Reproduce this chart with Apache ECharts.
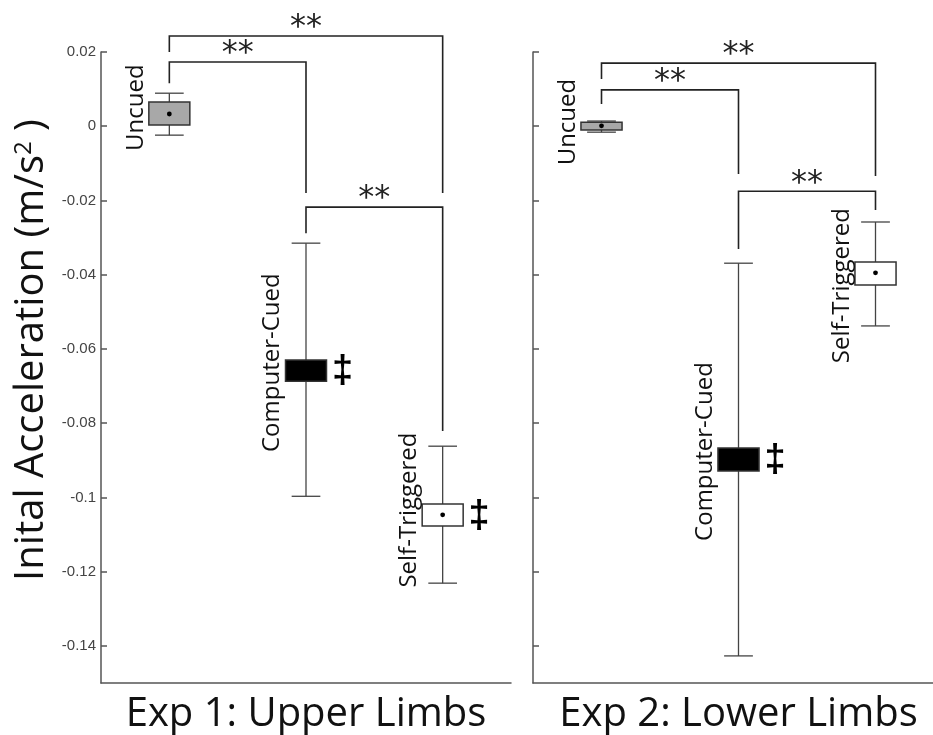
<!DOCTYPE html>
<html>
<head>
<meta charset="utf-8">
<script src="https://cdn.jsdelivr.net/npm/echarts@6/dist/echarts.min.js"></script>
<style>
  html, body { margin: 0; padding: 0; background: #fff; }
  #chart { width: 933px; height: 735px; }
</style>
</head>
<body>
<div id="chart"></div>
<script>
// Conditions shown in both panels
const categories = ['Uncued', 'Computer-Cued', 'Self-Triggered'];
const panelTitles = ['Exp 1: Upper Limbs', 'Exp 2: Lower Limbs'];
const yAxisTitle = 'Inital Acceleration (m/s';
const yTicks = [0.02, 0, -0.02, -0.04, -0.06, -0.08, -0.1, -0.12, -0.14];
const yMin = -0.15;
const yMax = 0.02;

// Exp 1 (upper limbs): whiskers, box edges and mean, in m/s^2
const exp1WhiskerLow  = [-0.0024, -0.0997, -0.1231];
const exp1BoxLow      = [ 0.0003, -0.0687, -0.1077];
const exp1Mean        = [ 0.0033, -0.0658, -0.1047];
const exp1BoxHigh     = [ 0.0065, -0.0630, -0.1018];
const exp1WhiskerHigh = [ 0.0089, -0.0315, -0.0862];
const exp1Dagger      = [0, 1, 1];

// Exp 2 (lower limbs)
const exp2WhiskerLow  = [-0.0016, -0.1427, -0.0538];
const exp2BoxLow      = [-0.0010, -0.0929, -0.0428];
const exp2Mean        = [ 0.0001, -0.0899, -0.0395];
const exp2BoxHigh     = [ 0.0011, -0.0867, -0.0366];
const exp2WhiskerHigh = [ 0.0014, -0.0369, -0.0258];
const exp2Dagger      = [0, 1, 0];

// Significance brackets: [from, to, bar level, from-end level, to-end level]
const exp1Brackets = [
  [0, 1,  0.0173,  0.0116, -0.0180],
  [0, 2,  0.0243,  0.0200, -0.0180],
  [1, 2, -0.0218, -0.0288, -0.0821]
];
const exp2Brackets = [
  [0, 1,  0.0098,  0.0060, -0.0129],
  [0, 2,  0.0170,  0.0127, -0.0134],
  [1, 2, -0.0175, -0.0331, -0.0226]
];
const sigMark = '**';
const daggerMark = '\u2021';

const boxFills = ['#a8a8a8', '#000000', '#ffffff'];
const inkColor = '#222';
const axisColor = '#555';
// vertical nudge (px) of each rotated condition label, per panel
const labelNudge = [[-6, -8, -5], [-4, -8, 12]];

function boxRows(wl, bl, mean, bh, wh, dag) {
  return categories.map((c, i) => [i, wl[i], bl[i], mean[i], bh[i], wh[i], dag[i]]);
}

function makeBoxRenderer(panel) {
  return function (params, api) {
    const idx = api.value(0);
    const band = api.size([1, 0])[0];
    const boxW = band * 0.30;
    const capW = band * 0.21;
    const pWl = api.coord([idx, api.value(1)]);
    const pBl = api.coord([idx, api.value(2)]);
    const pMean = api.coord([idx, api.value(3)]);
    const pBh = api.coord([idx, api.value(4)]);
    const pWh = api.coord([idx, api.value(5)]);
    const cx = pWl[0];
    const left = cx - boxW / 2;
    const right = cx + boxW / 2;
    const midY = (pBl[1] + pBh[1]) / 2;
    const lineStyle = { stroke: '#444', lineWidth: 1.3 };
    const children = [
      { type: 'line', shape: { x1: cx, y1: pWh[1], x2: cx, y2: pWl[1] }, style: lineStyle },
      { type: 'line', shape: { x1: cx - capW / 2, y1: pWh[1], x2: cx + capW / 2, y2: pWh[1] }, style: lineStyle },
      { type: 'line', shape: { x1: cx - capW / 2, y1: pWl[1], x2: cx + capW / 2, y2: pWl[1] }, style: lineStyle },
      { type: 'rect', shape: { x: left, y: pBh[1], width: boxW, height: pBl[1] - pBh[1] },
        style: { fill: boxFills[idx], stroke: '#333', lineWidth: 1.5 } },
      { type: 'circle', shape: { cx: cx, cy: pMean[1], r: 2.4 }, style: { fill: '#000' } },
      { type: 'text', x: left - 1, y: midY + labelNudge[panel][idx], rotation: Math.PI / 2,
        style: { text: categories[idx], fontFamily: 'Open Sans', fontSize: 24, fill: '#111',
                 align: 'center', verticalAlign: 'bottom' } }
    ];
    if (api.value(6)) {
      children.push({ type: 'text', x: right + 16, y: midY + 1,
        style: { text: daggerMark, fontFamily: 'Liberation Sans', fontWeight: 'bold', fontSize: 38,
                 fill: '#000', align: 'center', verticalAlign: 'middle' } });
    }
    return { type: 'group', children: children };
  };
}

function renderBracket(params, api) {
  const a = api.value(0), b = api.value(1);
  const p1 = api.coord([a, api.value(3)]);
  const p2 = api.coord([a, api.value(2)]);
  const p3 = api.coord([b, api.value(2)]);
  const p4 = api.coord([b, api.value(4)]);
  return {
    type: 'group',
    children: [
      { type: 'polyline', shape: { points: [p1, p2, p3, p4] },
        style: { stroke: inkColor, lineWidth: 1.6, fill: null } },
      { type: 'text', x: (p2[0] + p3[0]) / 2, y: p2[1] + 8,
        style: { text: sigMark, fontFamily: 'DejaVu Sans', fontSize: 32, fill: inkColor,
                 align: 'center', verticalAlign: 'bottom' } }
    ]
  };
}

const axisLine = { show: true, onZero: false, lineStyle: { color: axisColor, width: 1.5 } };

const option = {
  animation: false,
  backgroundColor: '#ffffff',
  grid: [
    { left: 101, top: 52, width: 410, height: 631, outerBoundsMode: 'none', containLabel: false },
    { left: 533, top: 52, width: 411, height: 631, outerBoundsMode: 'none', containLabel: false }
  ],
  xAxis: [0, 1].map(i => ({
    type: 'category', gridIndex: i, data: categories, boundaryGap: true,
    axisLine: axisLine, axisTick: { show: false }, axisLabel: { show: false },
    name: panelTitles[i], nameLocation: 'middle', nameGap: 12,
    nameTextStyle: { fontFamily: 'Open Sans', fontSize: 40, color: '#111' }
  })),
  yAxis: [0, 1].map(i => ({
    type: 'value', gridIndex: i, min: yMin, max: yMax,
    splitLine: { show: false },
    axisLine: axisLine,
    axisTick: { show: true, inside: true, length: 6, customValues: yTicks,
                lineStyle: { color: axisColor, width: 1.5 } },
    axisLabel: { show: i === 0, customValues: yTicks, margin: 5,
                 fontFamily: 'Liberation Sans', fontSize: 15, color: '#444' }
  })),
  graphic: [{
    type: 'text', x: 32, y: 350, rotation: Math.PI / 2,
    style: {
      text: '{t|' + yAxisTitle + '}{s|2}{t| )}',
      align: 'center', verticalAlign: 'middle',
      rich: {
        t: { fontFamily: 'Open Sans', fontSize: 40, fill: '#111' },
        s: { fontFamily: 'Open Sans', fontSize: 24, fill: '#111', verticalAlign: 'top' }
      }
    }
  }],
  series: [
    { type: 'custom', xAxisIndex: 0, yAxisIndex: 0, clip: false, renderItem: makeBoxRenderer(0),
      encode: { x: 0, y: [1, 2, 3, 4, 5] },
      data: boxRows(exp1WhiskerLow, exp1BoxLow, exp1Mean, exp1BoxHigh, exp1WhiskerHigh, exp1Dagger) },
    { type: 'custom', xAxisIndex: 1, yAxisIndex: 1, clip: false, renderItem: makeBoxRenderer(1),
      encode: { x: 0, y: [1, 2, 3, 4, 5] },
      data: boxRows(exp2WhiskerLow, exp2BoxLow, exp2Mean, exp2BoxHigh, exp2WhiskerHigh, exp2Dagger) },
    { type: 'custom', xAxisIndex: 0, yAxisIndex: 0, clip: false, renderItem: renderBracket,
      encode: { x: [0, 1], y: [2, 3, 4] }, data: exp1Brackets },
    { type: 'custom', xAxisIndex: 1, yAxisIndex: 1, clip: false, renderItem: renderBracket,
      encode: { x: [0, 1], y: [2, 3, 4] }, data: exp2Brackets }
  ]
};

const chart = echarts.init(document.getElementById('chart'), null, { renderer: 'canvas' });
chart.setOption(option);
</script>
</body>
</html>
